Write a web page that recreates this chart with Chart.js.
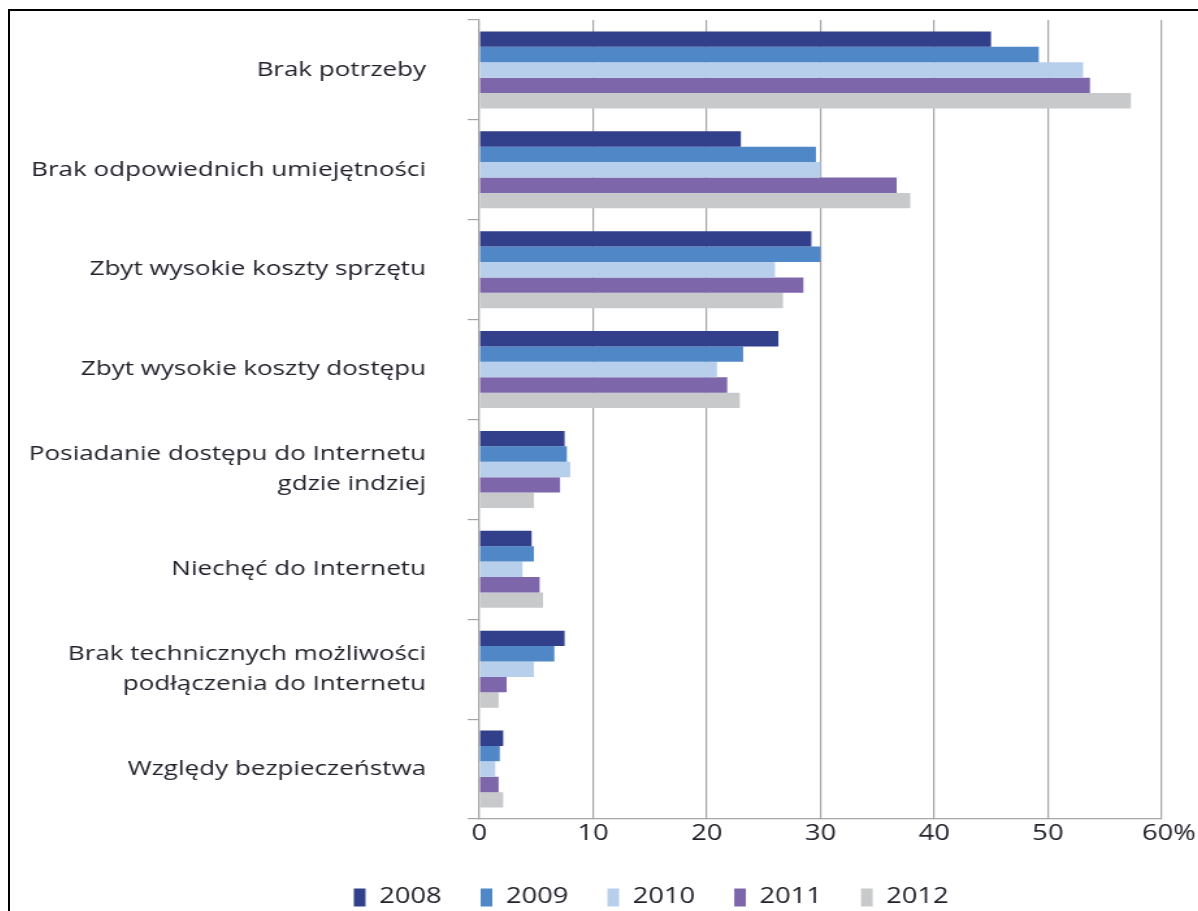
<!DOCTYPE html>
<html>
<head>
<meta charset="utf-8">
<script src="https://cdn.jsdelivr.net/npm/chart.js@4/dist/chart.umd.min.js"></script>
<style>
  html, body { margin: 0; padding: 0; background: #fff; }
  body { width: 1198px; height: 911px; overflow: hidden; position: relative; }
  .frame {
    position: absolute; left: 8px; top: 9px; width: 1200px; height: 920px;
    border-left: 2px solid #000; border-top: 2px solid #000;
  }
  /* the original picture is stretched sideways, so the chart is too */
  .wrap {
    position: absolute; left: 10px; top: 11px; width: 914px; height: 907px;
    transform: scaleX(1.3); transform-origin: 0 0;
  }
</style>
</head>
<body>
<div class="frame"></div>
<div class="wrap"><canvas id="reasonsChart"></canvas></div>
<script>
// Reasons for no Internet access at home (%), 2008-2012
const categories = [
    'Brak potrzeby',
    'Brak odpowiednich umiejętności',
    'Zbyt wysokie koszty sprzętu',
    'Zbyt wysokie koszty dostępu',
    ['Posiadanie dostępu do Internetu', 'gdzie indziej'],
    'Niechęć do Internetu',
    ['Brak technicznych możliwości', 'podłączenia do Internetu'],
    'Względy bezpieczeństwa'
];
const years = ['2008', '2009', '2010', '2011', '2012'];
const values2008 = [45.0, 23.0, 29.2, 26.3, 7.5, 4.6, 7.5, 2.1];
const values2009 = [49.2, 29.6, 30.0, 23.2, 7.7, 4.8, 6.6, 1.8];
const values2010 = [53.1, 30.0, 26.0, 20.9, 8.0, 3.8, 4.8, 1.4];
const values2011 = [53.7, 36.7, 28.5, 21.8, 7.1, 5.3, 2.4, 1.7];
const values2012 = [57.3, 37.9, 26.7, 22.9, 4.8, 5.6, 1.7, 2.1];
const xTicks = [0, 10, 20, 30, 40, 50, 60];

const colors = ['#323f8b', '#4f87c7', '#b8cfeb', '#7e66ab', '#c8c9cb'];
const series = [values2008, values2009, values2010, values2011, values2012];
const textFont = 'Open Sans, sans-serif';

document.addEventListener('DOMContentLoaded', function() {
    const ctx = document.getElementById('reasonsChart').getContext('2d');
    new Chart(ctx, {
        type: 'bar',
        data: {
            labels: categories,
            datasets: years.map(function(y, i) {
                return {
                    label: y,
                    data: series[i],
                    backgroundColor: colors[i],
                    borderWidth: 0,
                    categoryPercentage: 0.77,
                    barPercentage: 1.0
                };
            })
        },
        options: {
            indexAxis: 'y',
            responsive: true,
            maintainAspectRatio: false,
            animation: false,
            layout: { padding: { top: 9, right: 26, left: 0, bottom: 0 } },
            plugins: {
                tooltip: { enabled: false },
                legend: {
                    position: 'bottom',
                    labels: {
                        boxWidth: 9,
                        boxHeight: 18,
                        padding: 30,
                        color: '#22222c',
                        font: { family: textFont, size: 21 },
                        // blank first entry pushes the centred legend to the right
                        generateLabels: function(chart) {
                            const items = Chart.defaults.plugins.legend.labels.generateLabels(chart);
                            items.unshift({
                                text: '         ',
                                fillStyle: 'rgba(0,0,0,0)',
                                strokeStyle: 'rgba(0,0,0,0)',
                                lineWidth: 0,
                                hidden: false,
                                datasetIndex: -1
                            });
                            return items;
                        }
                    }
                }
            },
            scales: {
                x: {
                    min: 0,
                    max: 60,
                    afterBuildTicks: function(scale) {
                        scale.ticks = xTicks.map(function(v) { return { value: v }; });
                    },
                    afterFit: function(scale) { scale.height = 38; },
                    border: { color: '#a6a6a6', width: 1.2 },
                    grid: { color: '#a6a6a6', lineWidth: 1.2, tickLength: 0 },
                    ticks: {
                        padding: 2,
                        color: '#22222c',
                        font: { family: textFont, size: 21 },
                        callback: function(value) { return value === 60 ? '  60%' : value; }
                    }
                },
                y: {
                    afterFit: function(scale) {
                        scale.width = 361;
                        scale.paddingTop = 0;
                        scale.paddingBottom = 0;
                    },
                    border: { color: '#a6a6a6', width: 1.2 },
                    grid: { drawOnChartArea: false, offset: true, color: '#a6a6a6', lineWidth: 1.2, tickLength: 9 },
                    ticks: {
                        padding: 32,
                        color: '#22222c',
                        font: { family: textFont, size: 20, lineHeight: 1.5 }
                    }
                }
            }
        }
    });
});
</script>
</body>
</html>
